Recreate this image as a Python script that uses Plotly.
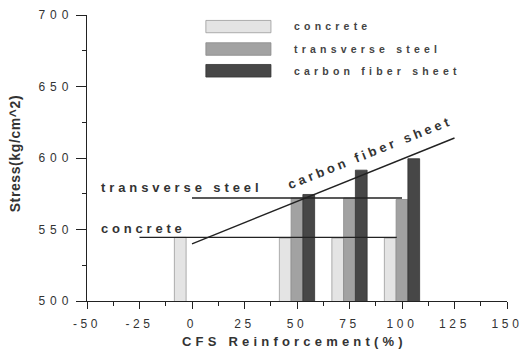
import plotly.graph_objects as go

# ---- data ----
series_names = ["concrete", "transverse steel", "carbon fiber sheet"]
concrete_x = [0, 50, 75, 100]
concrete_y = [544.5, 544, 544, 544]
steel_x = [50, 75, 100]
steel_y = [572, 572, 571]
cfs_x = [50, 75, 100]
cfs_y = [574.5, 591.5, 599.5]

# reference lines
concrete_line_x = [-25, 97.5]
concrete_line_y = [544.5, 544.5]
steel_line_x = [0, 100]
steel_line_y = [572, 572]
cfs_line_x = [0, 125]
cfs_line_y = [540, 614]

x_tick_vals = [-50, -25, 0, 25, 50, 75, 100, 125, 150]
x_tick_labels = ["-50", "-25", "0", "25", "50", "75", "100", "125", "150"]
y_tick_vals = [500, 550, 600, 650, 700]
y_tick_labels = ["500", "550", "600", "650", "700"]
x_title = "CFS Reinforcement(%)"
y_title = "Stress(kg/cm^2)"

colors = ["#e4e4e4", "#a2a2a2", "#474747"]
edge = ["#9a9a9a", "#8a8a8a", "#333333"]
FONT = "Liberation Sans, Arial, Helvetica, sans-serif"


def sp(t, ls):
    return f"<span style='letter-spacing:{ls}px'>{t}</span>"


fig = go.Figure()
bar_w = 5.6
for name, xs, ys, off, c, e in [
    (series_names[0], concrete_x, concrete_y, -8.4, colors[0], edge[0]),
    (series_names[1], steel_x, steel_y, -2.8, colors[1], edge[1]),
    (series_names[2], cfs_x, cfs_y, 2.8, colors[2], edge[2]),
]:
    fig.add_trace(go.Bar(x=xs, y=ys, name=name, width=bar_w, offset=off,
                         marker=dict(color=c, line=dict(color=e, width=0.8)),
                         showlegend=False))

for lx, ly in [(concrete_line_x, concrete_line_y), (steel_line_x, steel_line_y),
               (cfs_line_x, cfs_line_y)]:
    fig.add_trace(go.Scatter(x=lx, y=ly, mode="lines",
                             line=dict(color="#222222", width=1.4),
                             showlegend=False, hoverinfo="skip"))

# line labels
lab_font = dict(family=FONT, size=13, color="#333333", weight="bold")
fig.add_annotation(x=-44.5, y=579.4, text=sp("transverse steel", 3.9), showarrow=False,
                   xanchor="left", yanchor="middle", font=lab_font)
fig.add_annotation(x=-44.5, y=550.5, text=sp("concrete", 3.8), showarrow=False,
                   xanchor="left", yanchor="middle", font=lab_font)
fig.add_annotation(x=84.8, y=604, text=sp("carbon fiber sheet", 3.5), showarrow=False,
                   textangle=-21.7, xanchor="center", yanchor="middle", font=lab_font)

# axis titles
fig.add_annotation(xref="paper", yref="paper", x=0.495, y=-0.142,
                   text=sp(x_title, 4.2), showarrow=False,
                   xanchor="center", yanchor="middle",
                   font=dict(family=FONT, size=13, color="#333", weight="bold"))
fig.add_annotation(xref="paper", yref="paper", x=-0.171, y=0.517,
                   text=sp(y_title, 0.6), showarrow=False, textangle=-90,
                   xanchor="center", yanchor="middle",
                   font=dict(family=FONT, size=14, color="#333", weight="bold"))

# legend (manual, wide swatches)
sw_y = [(0.938, 0.981), (0.859, 0.903), (0.783, 0.827)]
txt_y = [0.960, 0.881, 0.805]
for i, name in enumerate(series_names):
    fig.add_shape(type="rect", xref="paper", yref="paper", x0=0.283, x1=0.438,
                  y0=sw_y[i][0], y1=sw_y[i][1], fillcolor=colors[i],
                  line=dict(color=edge[i], width=0.8))
    fig.add_annotation(xref="paper", yref="paper", x=0.487, y=txt_y[i],
                       text=sp(name, 4.2), showarrow=False, xanchor="left",
                       yanchor="middle",
                       font=dict(family=FONT, size=10.5, color="#444444", weight="bold"))

fig.update_layout(
    width=522, height=350,
    margin=dict(l=87, r=15, t=15, b=49),
    paper_bgcolor="white", plot_bgcolor="white",
    barmode="overlay",
    font=dict(family=FONT, color="#333333"),
    xaxis=dict(range=[-50, 150], tickvals=x_tick_vals,
               ticktext=[sp(t, 3.6) for t in x_tick_labels],
               ticks="outside", ticklen=7, tickwidth=1, tickcolor="#222",
               minor=dict(dtick=12.5, ticks="outside", ticklen=4, tickcolor="#222"),
               showline=True, linecolor="#222", linewidth=1.3,
               showgrid=False, zeroline=False, automargin=False,
               ticklabeloverflow="allow", ticklabelstandoff=4,
               tickfont=dict(size=12, color="#333")),
    yaxis=dict(range=[500, 700], tickvals=y_tick_vals,
               ticktext=[sp(t, 5) for t in y_tick_labels],
               ticks="outside", ticklen=10, tickwidth=1, tickcolor="#222",
               minor=dict(dtick=25, ticks="outside", ticklen=4, tickcolor="#222"),
               showline=True, linecolor="#222", linewidth=1.3,
               showgrid=False, zeroline=False, automargin=False,
               ticklabeloverflow="allow",
               tickfont=dict(size=12, color="#333")),
)

# remove the default 8px page margin so the 522x350 figure fills the window
fig.write_html("out.html", config={"displayModeBar": False},
               post_script="document.body.style.margin='0';"
                           "document.body.style.overflow='hidden';")
